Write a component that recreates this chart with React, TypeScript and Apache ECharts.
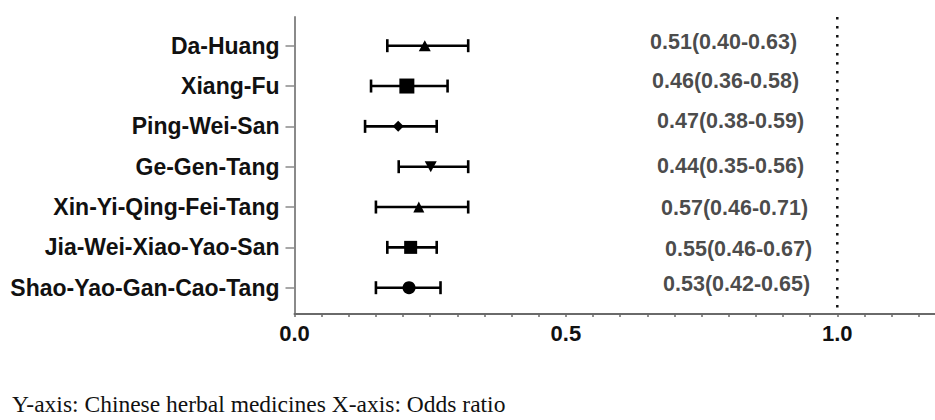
import React, { useEffect, useRef } from "react";
import * as echarts from "echarts";

// Chinese herbal medicines (top to bottom)
const categories = [
  "Da-Huang",
  "Xiang-Fu",
  "Ping-Wei-San",
  "Ge-Gen-Tang",
  "Xin-Yi-Qing-Fei-Tang",
  "Jia-Wei-Xiao-Yao-San",
  "Shao-Yao-Gan-Cao-Tang",
];

// Plotted positions of markers and whiskers (as drawn in the figure)
const plotPoint = [0.24, 0.207, 0.191, 0.251, 0.229, 0.214, 0.211];
const plotLower = [0.171, 0.141, 0.13, 0.192, 0.15, 0.171, 0.15];
const plotUpper = [0.32, 0.282, 0.262, 0.32, 0.32, 0.262, 0.269];

// Reported odds ratios with 95% CI (annotation text)
const orValue = [0.51, 0.46, 0.47, 0.44, 0.57, 0.55, 0.53];
const orLower = [0.4, 0.36, 0.38, 0.35, 0.46, 0.46, 0.42];
const orUpper = [0.63, 0.58, 0.59, 0.56, 0.71, 0.67, 0.65];

// Reference line (OR = 1)
const refValue = 1;
const xTickLabelValues = [0, 0.5, 1];

// ---- styling / layout (not data) ----
const markerSymbols = ["triangle", "rect", "diamond", "triangle", "triangle", "rect", "circle"];
const markerSizes: [number, number][] = [
  [12, 11],
  [15, 15],
  [11, 11],
  [12, 11],
  [11, 11],
  [13, 13],
  [13, 13],
];
const markerRotate = [0, 0, 0, 180, 0, 0, 0];
const annotationX = 0.655;
const annotationOffsets: [number, number][] = [
  [0, -4],
  [2, -5],
  [7, -5],
  [7, -1],
  [11, 1],
  [15, 2],
  [13, -4],
];

const BOLD = '"Liberation Sans", Arial, Helvetica, sans-serif';
const SERIF = '"Liberation Serif", "Times New Roman", Times, serif';

export default function App() {
  const ref = useRef<HTMLDivElement>(null);

  useEffect(() => {
    if (!ref.current) return;
    const chart = echarts.init(ref.current, undefined, { renderer: "svg" });

    const annotationText = orValue.map(
      (v, i) => `${v.toFixed(2)}(${orLower[i].toFixed(2)}-${orUpper[i].toFixed(2)})`
    );

    const left = 294.5;
    const xMax = 1.18;

    const option: any = {
      animation: false,
      backgroundColor: "#ffffff",
      grid: [
        { left, right: 0, top: 17, bottom: 106 },
        { left, right: 0, top: 45.7, bottom: 420 - 287.7 },
      ],
      xAxis: [
        {
          type: "value",
          gridIndex: 0,
          min: 0,
          max: xMax,
          interval: 0.05,
          axisLine: { show: true, lineStyle: { color: "#6a6a6a", width: 2 } },
          axisTick: { show: true, length: 3, lineStyle: { color: "#6a6a6a", width: 1.5 } },
          splitLine: { show: false },
          axisLabel: {
            margin: 8,
            fontFamily: BOLD,
            fontWeight: "bold",
            fontSize: 22,
            color: "#111",
            showMaxLabel: false,
            formatter: (v: number) =>
              xTickLabelValues.some((t) => Math.abs(t - v) < 1e-6) ? v.toFixed(1) : "",
          },
        },
        {
          type: "value",
          gridIndex: 1,
          min: 0,
          max: xMax,
          show: false,
        },
      ],
      yAxis: [
        {
          type: "value",
          gridIndex: 0,
          min: 0,
          max: 1,
          axisLine: { show: true, lineStyle: { color: "#8a8a8a", width: 2 } },
          axisTick: { show: false },
          axisLabel: { show: false },
          splitLine: { show: false },
        },
        {
          type: "category",
          gridIndex: 1,
          data: categories,
          inverse: true,
          boundaryGap: false,
          axisLine: { show: false },
          axisTick: { show: true, length: 9, lineStyle: { color: "#8a8a8a", width: 1.5 } },
          axisLabel: {
            margin: 15,
            fontFamily: BOLD,
            fontWeight: "bold",
            fontSize: 23,
            color: "#111",
          },
          splitLine: { show: false },
        },
      ],
      series: [
        {
          type: "line",
          xAxisIndex: 0,
          yAxisIndex: 0,
          data: [
            [refValue, 1],
            [refValue, 0],
          ],
          symbol: "none",
          lineStyle: { color: "#111", width: 2.5, type: [2.5, 6.5] },
          silent: true,
        },
        {
          type: "custom",
          xAxisIndex: 1,
          yAxisIndex: 1,
          data: categories.map((_, i) => [i, plotLower[i], plotUpper[i]]),
          encode: { x: [1, 2], y: 0 },
          renderItem: (params: any, api: any) => {
            const y = api.value(0);
            const p1 = api.coord([api.value(1), y]);
            const p2 = api.coord([api.value(2), y]);
            const h = 6.5;
            const style = { stroke: "#000", lineWidth: 2.6 };
            return {
              type: "group",
              children: [
                { type: "line", shape: { x1: p1[0], y1: p1[1], x2: p2[0], y2: p2[1] }, style },
                { type: "line", shape: { x1: p1[0], y1: p1[1] - h, x2: p1[0], y2: p1[1] + h }, style },
                { type: "line", shape: { x1: p2[0], y1: p2[1] - h, x2: p2[0], y2: p2[1] + h }, style },
              ],
            };
          },
          z: 2,
        },
        {
          type: "scatter",
          xAxisIndex: 1,
          yAxisIndex: 1,
          data: categories.map((_, i) => ({
            value: [plotPoint[i], i],
            symbol: markerSymbols[i],
            symbolSize: markerSizes[i],
            symbolRotate: markerRotate[i],
          })),
          itemStyle: { color: "#000", opacity: 1 },
          z: 3,
        },
        {
          type: "scatter",
          xAxisIndex: 1,
          yAxisIndex: 1,
          symbolSize: 0,
          data: categories.map((_, i) => ({
            value: [annotationX, i],
            label: { offset: annotationOffsets[i] },
          })),
          label: {
            show: true,
            position: "right",
            distance: 0,
            fontFamily: BOLD,
            fontWeight: "bold",
            fontSize: 21.5,
            color: "#1a1a1a",
            formatter: (p: any) => annotationText[p.dataIndex],
          },
          silent: true,
        },
      ],
      graphic: [
        {
          type: "text",
          left: 12,
          top: 392,
          style: {
            text: "Y-axis: Chinese herbal medicines X-axis: Odds ratio",
            fontFamily: SERIF,
            fontSize: 23.5,
            fill: "#111",
          },
        },
      ],
    };

    chart.setOption(option);
    return () => chart.dispose();
  }, []);

  return (
    <div
      ref={ref}
      style={{ position: "absolute", left: 0, top: 0, width: 935, height: 420, background: "#fff" }}
    />
  );
}
